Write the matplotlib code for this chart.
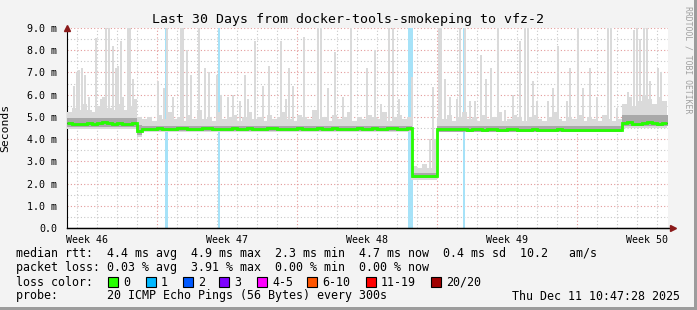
import numpy as np
import matplotlib
matplotlib.use('Agg')
import matplotlib.pyplot as plt
from matplotlib.patches import Rectangle

plt.rcParams['font.family'] = ['DejaVu Sans Mono']

W, H = 697, 310

# median rtt in ms, one value per 6 hours (30 days)
median_ms = [
    4.72, 4.70, 4.68, 4.69, 4.73, 4.70, 4.72, 4.75, 4.72, 4.70, 4.71, 4.68, 4.70, 4.72,
    4.36,
    4.45, 4.46, 4.47, 4.48, 4.46, 4.47, 4.47, 4.49, 4.48,
    4.46, 4.47, 4.46, 4.48, 4.50, 4.47, 4.46, 4.45, 4.47,
    4.48, 4.46, 4.47, 4.48, 4.47, 4.45, 4.46, 4.48, 4.49,
    4.47, 4.46, 4.45, 4.47, 4.48, 4.47, 4.46, 4.47, 4.49,
    4.47, 4.46, 4.48, 4.47, 4.46, 4.45, 4.47, 4.48, 4.46,
    4.47, 4.48, 4.46, 4.47, 4.49, 4.48, 4.47, 4.46, 4.48,
    2.33, 2.32, 2.34, 2.33, 2.35,
    4.46, 4.45, 4.44, 4.45, 4.46, 4.44, 4.43, 4.45, 4.44,
    4.43, 4.45, 4.44, 4.42, 4.43, 4.44, 4.45, 4.43, 4.42,
    4.43, 4.44, 4.42, 4.41, 4.43, 4.42, 4.44, 4.43, 4.41,
    4.42, 4.43, 4.41, 4.42, 4.43, 4.41, 4.42, 4.43, 4.42,
    4.42,
    4.72, 4.75, 4.70, 4.68, 4.74, 4.78, 4.72, 4.70, 4.73,
]

# upper edge of the light smoke, same 6 hour steps
smoke_hi_ms = [
    5.2, 5.4, 5.3, 5.6, 5.3, 5.2, 5.5, 5.9, 5.4, 5.3, 5.6, 5.3, 5.5, 5.8,
    5.0,
    4.9, 5.0, 4.8, 5.1, 4.9, 5.2, 4.9, 5.0, 4.8,
    5.1, 4.9, 5.3, 4.9, 5.0, 4.8, 5.2, 4.9, 5.0,
    5.1, 4.8, 5.0, 5.2, 4.9, 5.0, 4.8, 5.1, 4.9,
    5.0, 5.2, 4.9, 4.8, 5.1, 5.0, 4.9, 5.3, 4.9,
    5.0, 4.8, 5.1, 4.9, 5.0, 5.2, 4.8, 5.0, 4.9,
    5.1, 5.0, 4.9, 5.2, 4.8, 5.0, 5.1, 4.9, 5.0,
    2.8, 2.7, 2.9, 2.7, 2.8,
    5.0, 4.9, 5.1, 4.8, 5.0, 5.2, 4.9, 5.0, 4.8,
    5.1, 4.9, 5.0, 5.2, 4.8, 4.9, 5.1, 5.0, 4.8,
    5.0, 5.1, 4.9, 4.8, 5.0, 5.2, 4.9, 4.8, 5.0,
    4.9, 5.1, 4.8, 5.0, 4.9, 4.8, 5.1, 4.9, 4.8,
    4.9,
    5.6, 5.9, 5.5, 5.7, 6.0, 5.8, 5.6, 5.9, 5.7,
]

# smoke bands per segment (days)
seg_edges = [0, 3.5, 3.75, 17.25, 18.5, 27.75, 30.05]
light_lo = [4.45, 4.10, 4.33, 2.18, 4.31, 4.50]
dark_lo = [4.55, 4.20, 4.36, 2.24, 4.34, 4.58]
dark_hi = [4.95, 4.62, 4.60, 2.46, 4.58, 5.08]

# single ping spikes: day, max rtt (ms)
spike_day = [0.15, 0.35, 0.5, 0.6, 0.75, 0.9, 1.1, 1.45, 1.7, 1.95, 2.1, 2.3, 2.45, 2.55,
             2.7, 2.8, 3.05, 3.15, 3.3, 3.7, 4.55, 4.85, 5.0, 5.3, 5.7, 5.8, 6.0, 6.2,
             6.6, 6.9, 7.1, 7.5, 7.7, 8.05, 8.3, 8.65, 8.9, 9.05, 9.4, 9.8, 10.1, 10.7,
             10.95, 11.1, 11.3, 11.85, 12.55, 12.7, 13.05, 13.4, 13.8, 14.2, 15.0, 15.4,
             15.7, 16.1, 16.3, 16.6, 17.25, 18.15, 18.3, 18.4, 18.6, 18.7, 18.9, 19.15,
             19.5, 19.65, 19.9, 20.15, 20.4, 20.7, 20.95, 21.2, 21.55, 21.9, 22.3, 22.65,
             22.9, 23.05, 23.3, 23.5, 24.05, 24.3, 24.55, 25.0, 25.15, 25.55, 25.8, 26.15,
             26.5, 27.05, 27.2, 27.5, 28.05, 28.35, 28.5, 28.65, 28.85, 29.0, 29.15, 29.55,
             29.7]
spike_top = [5.2, 6.4, 7.0, 7.1, 7.2, 6.9, 5.9, 8.55, 5.8, 9.5, 9.5, 8.2, 7.2, 7.3,
             8.4, 5.9, 9.5, 9.5, 6.7, 5.0, 6.6, 6.3, 9.5, 5.9, 9.5, 9.5, 8.0, 6.9,
             9.5, 7.2, 7.0, 6.9, 6.0, 5.9, 6.0, 5.7, 6.9, 5.8, 8.4, 6.4, 7.3, 8.4,
             5.8, 7.2, 6.4, 8.6, 9.5, 9.5, 6.3, 7.9, 5.9, 9.5, 7.2, 8.0,
             5.6, 9.5, 9.5, 5.8, 6.8, 4.0, 6.35, 4.0, 9.5, 9.5, 6.7, 5.9,
             5.8, 9.5, 9.5, 5.7, 5.7, 7.8, 6.7, 7.2, 9.5, 5.3, 6.0, 8.4,
             9.5, 9.5, 6.6, 5.7, 5.7, 6.3, 8.2, 5.7, 7.2, 9.5, 6.3, 7.2,
             5.9, 9.5, 9.5, 5.4, 6.1, 8.9, 9.5, 8.5, 9.5, 9.5, 6.6, 7.2,
             7.0]

# periods with packet loss (start day, end day)
loss_start = [4.9, 7.53, 17.05, 19.8]
loss_end = [5.05, 7.65, 17.3, 19.9]

week_labels = ['Week 46', 'Week 47', 'Week 48', 'Week 49', 'Week 50']
week_pos = [1, 8, 15, 22, 29]

loss_names = ['0', '1', '2', '3', '4-5', '6-10', '11-19', '20/20']
loss_colors = ['#26ff00', '#00b8ff', '#0059ff', '#7e00ff', '#ff00ff', '#ff5500', '#ff0000', '#a00000']
loss_box_x = [108, 146, 183, 219, 257, 307, 366, 431]


def fx(x):
    return x / W


def fy(y):
    return 1 - y / H


fig = plt.figure(figsize=(W / 100, H / 100), dpi=100)
fig.patch.set_facecolor('#f3f3f3')

ax = fig.add_axes([fx(67), fy(228), (668 - 67) / W, 200 / H])
ax.set_facecolor('white')
ax.set_xlim(0, 30.05)
ax.set_ylim(0, 9.0)

# grid
for d in np.arange(0.5, 30, 1.0):
    if d in (4.5, 11.5, 18.5, 25.5):
        continue
    ax.axvline(d, color='#c8c8c8', lw=0.8, ls=(0, (1, 2)), zorder=0)
for d in (4.5, 11.5, 18.5, 25.5):
    ax.axvline(d, color='#e39a9a', lw=0.8, ls=(0, (1, 2)), zorder=0)
for v in np.arange(0.5, 9.0, 1.0):
    ax.axhline(v, color='#c8c8c8', lw=0.8, ls=(0, (1, 2)), zorder=0)
for v in range(1, 10):
    ax.axhline(v, color='#e39a9a', lw=0.8, ls=(0, (1, 2)), zorder=0)

# loss periods
for s, e in zip(loss_start, loss_end):
    ax.axvspan(s, e, color='#a6e2f8', lw=0, zorder=1)

edges = np.arange(len(median_ms) + 1) * 0.25
light_lo_bins = np.array(light_lo)[np.searchsorted(seg_edges, edges[:-1], side='right') - 1]

# spikes
seg_i = np.searchsorted(seg_edges, spike_day, side='right') - 1
ax.bar(spike_day, np.array(spike_top) - np.array(light_lo)[seg_i], bottom=np.array(light_lo)[seg_i],
       width=0.1, color='#dadada', lw=0, zorder=2)

# smoke
ax.stairs(smoke_hi_ms, edges, baseline=light_lo_bins, fill=True, color='#dadada', lw=0, zorder=3)
ax.stairs(dark_hi, seg_edges, baseline=dark_lo, fill=True, color='#a9a9a9', lw=0, zorder=4)

# median
ax.stairs(median_ms, edges, color='black', lw=0.9, zorder=5, baseline=None)
ax.stairs(median_ms, edges, color='#26ff00', lw=2.0, zorder=6, baseline=None)

for sp in ('top', 'right'):
    ax.spines[sp].set_visible(False)
ax.spines['left'].set_color('black')
ax.spines['bottom'].set_color('black')
ax.tick_params(length=0)
ax.set_xticks([])
ax.set_yticks(range(10))
ax.set_yticklabels(['0.0'] + ['%d.0 m' % i for i in range(1, 10)], fontsize=7.2)
ax.tick_params(axis='y', pad=7)

# axis arrows
ax.plot([0], [1.0], transform=ax.transAxes, marker='^', color='#8b1a1a', ms=4, clip_on=False, zorder=10)
ax.plot([1.0075], [0], transform=ax.transAxes, marker='>', color='#8b1a1a', ms=4, clip_on=False, zorder=10)
ax.plot([0, 1.0075], [0, 0], transform=ax.transAxes, color='black', lw=1, clip_on=False, zorder=9)

for lab, d in zip(week_labels, week_pos):
    ax.text(d, -0.3, lab, ha='center', va='top', fontsize=7.2)

ax.set_ylabel('Seconds', fontsize=8.2, labelpad=2)
ax.yaxis.set_label_coords(fx(10 - 67) / ((668 - 67) / W), 0.5)

fig.text(0.5, fy(19), 'Last 30 Days from docker-tools-smokeping to vfz-2', ha='center', va='center', fontsize=9.5)
fig.text(fx(688), fy(60), 'RRDTOOL / TOBI OETIKER', rotation=-90, ha='center', va='center',
         fontsize=5.9, color='#a0a0a0')

fs = 8.4
fig.text(fx(16), fy(254), 'median rtt:  4.4 ms avg  4.9 ms max  2.3 ms min  4.7 ms now  0.4 ms sd  10.2   am/s',
         va='center', fontsize=fs)
fig.text(fx(16), fy(268), 'packet loss: 0.03 % avg  3.91 % max  0.00 % min  0.00 % now', va='center', fontsize=fs)
fig.text(fx(16), fy(282), 'loss color:', va='center', fontsize=fs)
for name, col, bx in zip(loss_names, loss_colors, loss_box_x):
    fig.add_artist(Rectangle((fx(bx), fy(287)), 10 / W, 10 / H, facecolor=col, edgecolor='black', lw=0.8,
                             transform=fig.transFigure))
    fig.text(fx(bx + 15), fy(282), name, va='center', fontsize=fs)
fig.text(fx(16), fy(296), 'probe:       20 ICMP Echo Pings (56 Bytes) every 300s', va='center', fontsize=fs)
fig.text(fx(680), fy(296), 'Thu Dec 11 10:47:28 2025', va='center', ha='right', fontsize=fs)

# frame
fig.add_artist(Rectangle((fx(694), 0), 3 / W, 1, facecolor='#9c9c9c', lw=0, transform=fig.transFigure))
fig.add_artist(Rectangle((0, 0), 1, 3 / H, facecolor='#9c9c9c', lw=0, transform=fig.transFigure))

fig.savefig('out.png', dpi=100, facecolor=fig.get_facecolor())
